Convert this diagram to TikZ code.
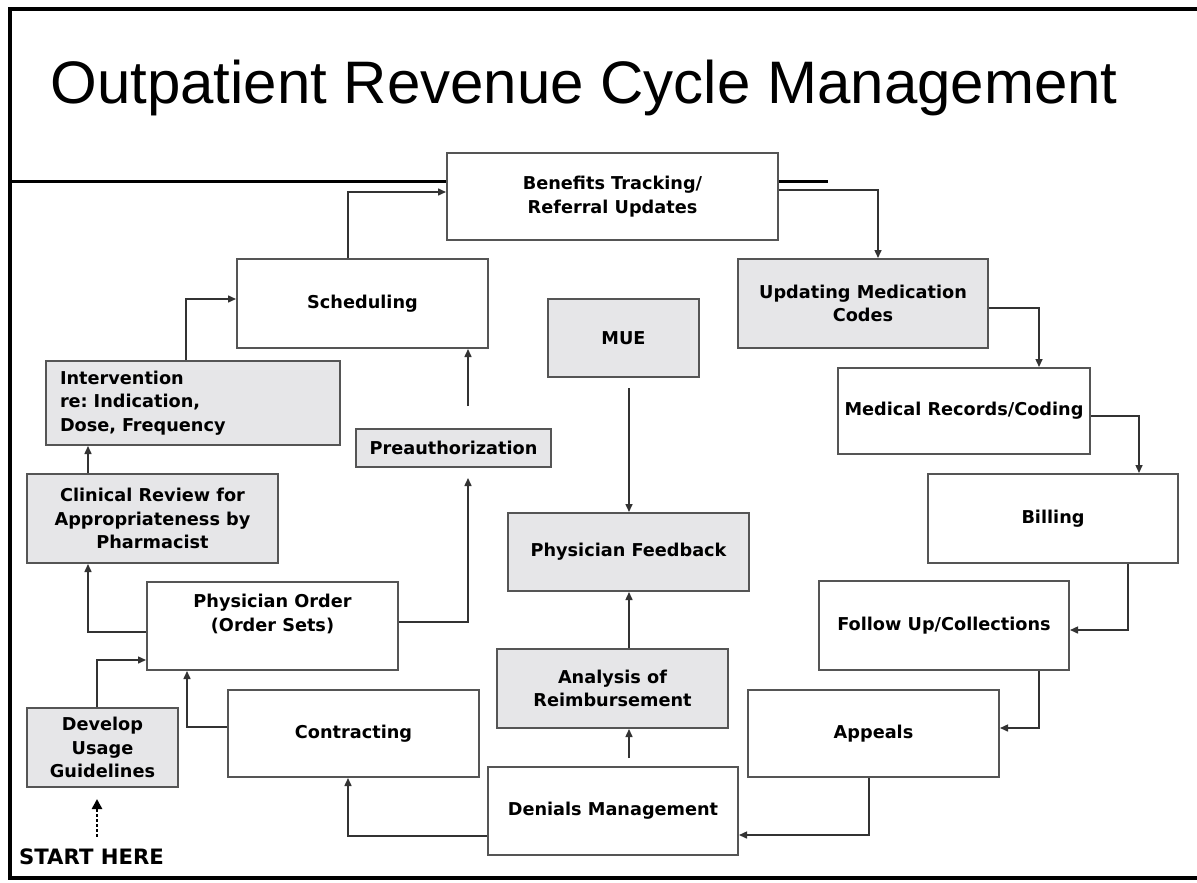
\documentclass[tikz,border=0pt]{standalone}
\usepackage{fontspec}
\usepackage{tikz}
\usetikzlibrary{arrows.meta}

\newfontfamily\titlefont{Liberation Sans}
\newfontfamily\stagefont{DejaVu Sans}
\frenchspacing

\definecolor{boxline}{HTML}{555555}
\definecolor{boxfill}{HTML}{E6E6E8}
\definecolor{flowline}{HTML}{333333}

\begin{document}
\begin{tikzpicture}
      [ x = .5pt, y = -.5pt
      , stage/.style =
        { draw=boxline, line width=1pt, fill=white, inner sep=0pt
        , align=center, font=\stagefont\bfseries\fontsize{8.85}{11.75}\selectfont }
      , shaded/.style =
        { fill=boxfill }
      , flow/.style =
        { draw=flowline, line width=.75pt, -{Triangle[length=4pt,width=3.5pt]} }
      , startflow/.style =
        { draw=black, line width=1.3pt, dash pattern=on 1.5pt off 1pt
        , -{Triangle[length=5pt,width=5pt]} }
      , frame/.style =
        { line width=2pt, black }
      ]
      \useasboundingbox (0,0) rectangle (1197,882);
      \fill [white] (0,0) rectangle (1197,882);

      % frame and title
      \draw [frame] (1197,9) -- (10,9) -- (10,878) -- (1197,878);
      \node [anchor=base west, inner sep=0pt, font=\titlefont\fontsize{30}{36}\selectfont]
        (title) at (50,104) {Outpatient Revenue Cycle Management};

      % stages
      \node [stage, minimum width=165.5pt, minimum height=43.5pt] (benefits) at (612.5,196.5)
        {Benefits Tracking/\\Referral Updates};
      \node [stage, minimum width=125.5pt, minimum height=44.5pt] (scheduling) at (362.5,303.5)
        {Scheduling};
      \node [stage, shaded, minimum width=147pt, minimum height=42pt, text width=133pt,
             align=left] (intervention) at (193,403)
        {Intervention\\re: Indication,\\Dose, Frequency};
      \node [stage, shaded, minimum width=97.5pt, minimum height=19pt] (preauth) at (453.5,448)
        {Preauthorization};
      \node [stage, shaded, minimum width=75.5pt, minimum height=39pt] (mue) at (623.5,338)
        {MUE};
      \node [stage, shaded, minimum width=125pt, minimum height=44.5pt] (updating) at (863,303.5)
        {Updating Medication\\Codes};
      \node [stage, minimum width=126pt, minimum height=43pt] (medical) at (964,411)
        {Medical Records/Coding};
      \node [stage, minimum width=125pt, minimum height=44.5pt] (billing) at (1053,518.5)
        {Billing};
      \node [stage, minimum width=125pt, minimum height=44.5pt] (followup) at (944,625.5)
        {Follow Up/Collections};
      \node [stage, minimum width=125.5pt, minimum height=43.5pt] (appeals) at (873.5,733.5)
        {Appeals};
      \node [stage, minimum width=125pt, minimum height=44pt] (denials) at (613,811)
        {Denials Management};
      \node [stage, shaded, minimum width=115.5pt, minimum height=39.5pt] (analysis) at (612.5,688.5)
        {Analysis of\\Reimbursement};
      \node [stage, shaded, minimum width=120.5pt, minimum height=39pt] (feedback) at (628.5,552)
        {Physician Feedback};
      \node [stage, shaded, minimum width=125.5pt, minimum height=44.5pt] (clinical) at (152.5,518.5)
        {Clinical Review for\\Appropriateness by\\Pharmacist};
      \node [stage, minimum width=125.5pt, minimum height=44pt] (order) at (272.5,626)
        {Physician Order\\(Order Sets)\\[-2pt]\strut};
      \node [stage, minimum width=125.5pt, minimum height=43.5pt] (contracting) at (353.5,733.5)
        {Contracting};
      \node [stage, shaded, minimum width=75.5pt, minimum height=39.5pt] (develop) at (102.5,747.5)
        {Develop\\Usage\\Guidelines};
      \node [inner sep=0pt, font=\stagefont\bfseries\fontsize{10.6}{12}\selectfont]
        (start) at (91.5,857) {START HERE};

      % rule under the title
      \draw [line width=1.5pt] (10,182) -- (benefits.west |- 0,182);
      \draw [line width=1.5pt] (benefits.east |- 0,182) -- (828,182);

      % left side, going up
      \draw [startflow, shorten <=6pt, shorten >=5.5pt] (start.north -| 97,0) -- (develop.south -| 97,0);
      \draw [flow] (develop.north -| 97,0) |- (order.west |- 0,660);
      \draw [flow] (order.west |- 0,632) -| (clinical.south -| 88,0);
      \draw [flow] (clinical.north -| 88,0) -- (intervention.south -| 88,0);
      \draw [flow] (intervention.north -| 186,0) |- (scheduling.west |- 0,299);
      \draw [flow] (scheduling.north -| 348,0) |- (benefits.west |- 0,192);
      \draw [flow, shorten >=5pt] (order.east |- 0,622) -| (preauth.south -| 468,0);
      \draw [flow, shorten <=11pt] (preauth.north -| 468,0) -- (scheduling.south -| 468,0);
      \draw [flow] (contracting.west |- 0,727) -| (order.south -| 187,0);
      \draw [flow] (denials.west |- 0,836) -| (contracting.south -| 348,0);

      % right side, going down
      \draw [flow] (benefits.east |- 0,190) -| (updating.north -| 878,0);
      \draw [flow] (updating.east |- 0,308) -| (medical.north -| 1039,0);
      \draw [flow] (medical.east |- 0,416) -| (billing.north -| 1139,0);
      \draw [flow] (billing.south -| 1128,0) |- (followup.east |- 0,630);
      \draw [flow] (followup.south -| 1039,0) |- (appeals.east |- 0,728);
      \draw [flow] (appeals.south -| 869,0) |- (denials.east |- 0,835);

      % middle column
      \draw [flow, shorten <=4pt] (denials.north -| 629,0) -- (analysis.south -| 629,0);
      \draw [flow] (analysis.north -| 629,0) -- (feedback.south -| 629,0);
      \draw [flow, shorten <=5pt] (mue.south -| 629,0) -- (feedback.north -| 629,0);
    \end{tikzpicture}
\end{document}
